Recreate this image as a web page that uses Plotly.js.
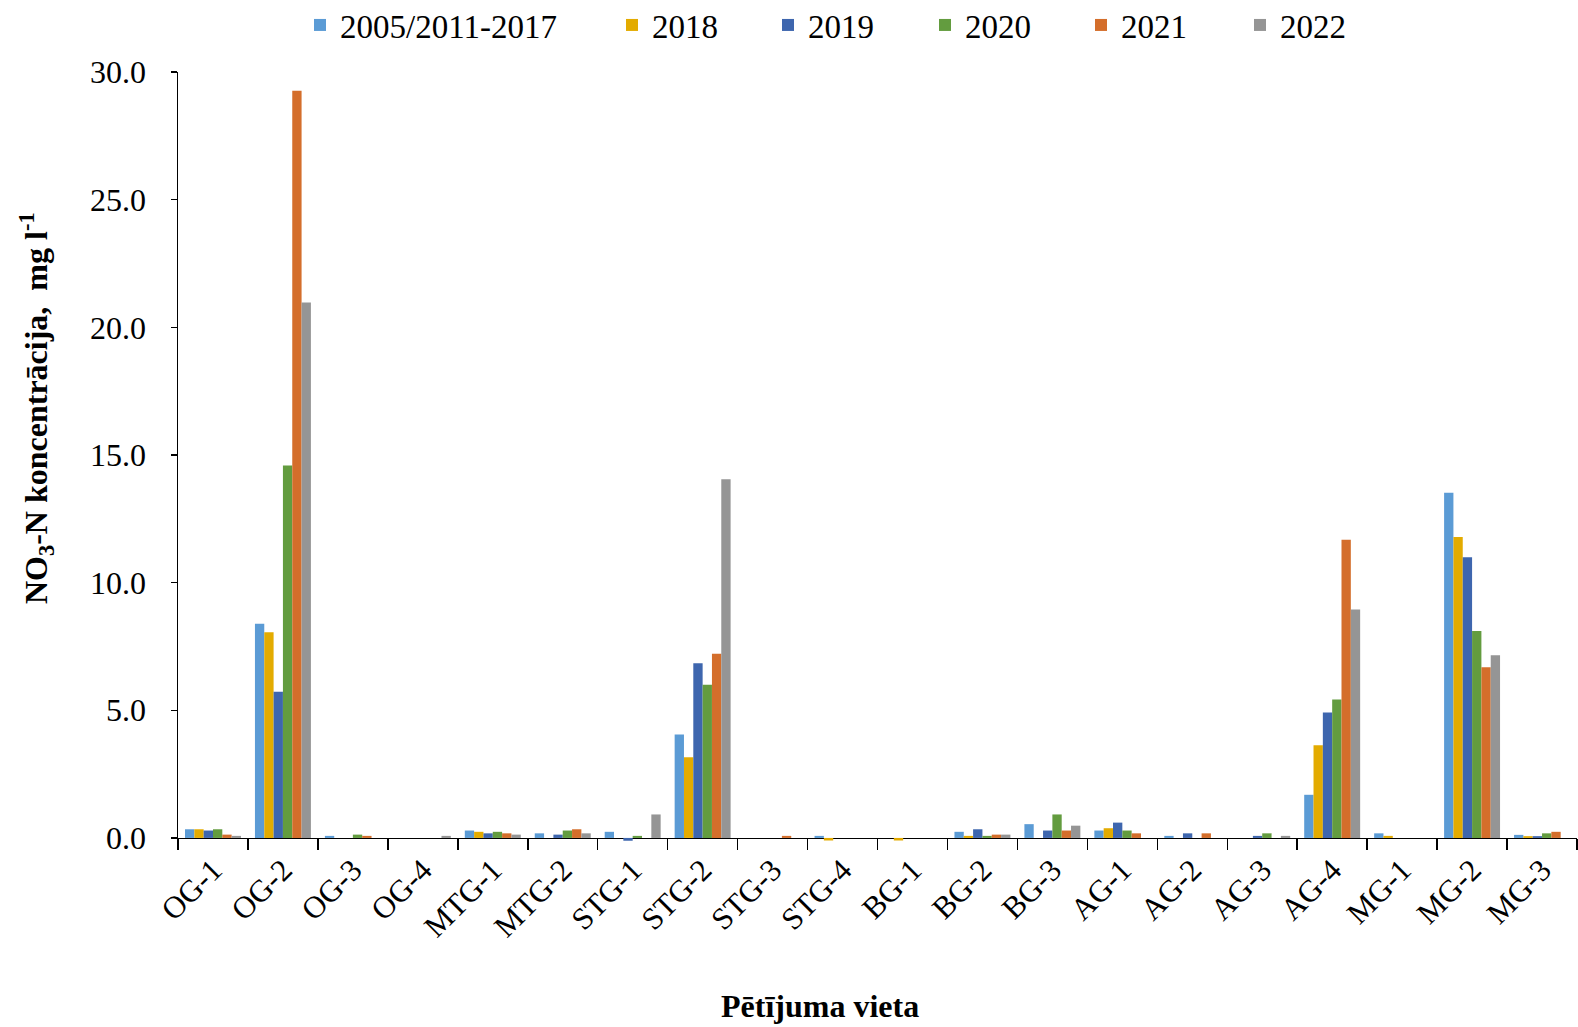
<!DOCTYPE html>
<html>
<head>
<meta charset="utf-8">
<script src="https://cdn.plot.ly/plotly-3.0.1.min.js"></script>
<style>html,body{margin:0;padding:0;background:#fff;}#chart{width:1578px;height:1027px;}</style>
</head>
<body>
<div id="chart"></div>
<script>
const categories = ['OG-1','OG-2','OG-3','OG-4','MTG-1','MTG-2','STG-1','STG-2','STG-3','STG-4','BG-1','BG-2','BG-3','AG-1','AG-2','AG-3','AG-4','MG-1','MG-2','MG-3'];
const seriesNames = ['2005/2011-2017','2018','2019','2020','2021','2022'];
const v2005 = [0.34, 8.39, 0.08, 0, 0.29, 0.18, 0.24, 4.05, 0, 0.08, 0, 0.24, 0.54, 0.29, 0.08, 0, 1.69, 0.18, 13.52, 0.12];
const v2018 = [0.34, 8.06, 0, 0, 0.24, 0, 0, 3.16, 0, -0.1, -0.1, 0.08, 0, 0.38, 0, 0, 3.63, 0.08, 11.79, 0.07];
const v2019 = [0.29, 5.73, 0, 0, 0.18, 0.13, -0.11, 6.84, 0, 0, 0, 0.34, 0.29, 0.60, 0.18, 0.08, 4.91, 0, 10.99, 0.07];
const v2020 = [0.34, 14.59, 0.13, 0, 0.24, 0.29, 0.08, 6.00, 0, 0, 0, 0.08, 0.92, 0.29, 0, 0.18, 5.42, 0, 8.11, 0.18];
const v2021 = [0.13, 29.27, 0.08, 0, 0.18, 0.34, 0, 7.21, 0.08, 0, 0, 0.13, 0.29, 0.18, 0.18, 0, 11.68, 0, 6.69, 0.24];
const v2022 = [0.08, 20.97, 0, 0.08, 0.13, 0.18, 0.92, 14.05, 0, 0, 0, 0.13, 0.48, 0, 0, 0.08, 8.95, 0, 7.16, 0];
const yTickVals = [0, 5, 10, 15, 20, 25, 30];

const seriesValues = [v2005, v2018, v2019, v2020, v2021, v2022];
const colors = ['#5B9BD5', '#E3AB00', '#3E66AE', '#639C3F', '#D46E2B', '#959595'];
const legendTextX = [340, 652, 808, 965, 1121, 1280];

const FONT = 'Liberation Serif, Times New Roman, serif';
const W = 1578, H = 1027;
const Y_MIN = -0.12, Y_MAX = 30;
const M = {l: 178, r: 1, t: 72, b: 186};
const plotH = H - M.t - M.b;
const plotW = W - M.l - M.r;
const plotBottom = H - M.b;

const traces = seriesNames.map((name, i) => ({
  type: 'bar',
  name: name,
  x: categories,
  y: seriesValues[i],
  marker: {color: colors[i], line: {width: 0}},
  legend: i === 0 ? 'legend' : 'legend' + (i + 1),
  hoverinfo: 'skip'
}));

const layout = {
  width: W, height: H,
  paper_bgcolor: '#ffffff',
  plot_bgcolor: '#ffffff',
  font: {family: FONT, size: 32, color: '#000'},
  margin: {l: M.l, r: M.r, t: M.t, b: M.b, pad: 0},
  barmode: 'group',
  bargap: 0.2,
  bargroupgap: 0,
  showlegend: true,
  xaxis: {
    type: 'category',
    anchor: 'free',
    position: (0 - Y_MIN) / (Y_MAX - Y_MIN),
    tickson: 'boundaries',
    ticks: 'outside',
    ticklen: 11,
    tickwidth: 1.5,
    tickcolor: '#000',
    showline: true,
    linecolor: '#000',
    linewidth: 1.5,
    showgrid: false,
    tickangle: -45,
    layer: 'below traces',
    tickfont: {family: FONT, size: 31, color: '#000'},
    automargin: false
  },
  yaxis: {
    range: [Y_MIN, Y_MAX],
    tickvals: yTickVals,
    tickformat: '.1f',
    ticks: 'outside',
    ticklen: 6,
    tickwidth: 1.5,
    tickcolor: '#000',
    showline: true,
    linecolor: '#000',
    linewidth: 1.5,
    showgrid: false,
    zeroline: false,
    ticklabelstandoff: 18,
    tickfont: {family: FONT, size: 32, color: '#000'},
    automargin: false
  },
  annotations: [
    {
      text: '<b>Pētījuma vieta</b>',
      xref: 'paper', yref: 'paper',
      x: (820 - M.l) / plotW, y: (plotBottom - 1006) / plotH,
      xanchor: 'center', yanchor: 'middle',
      showarrow: false,
      font: {family: FONT, size: 32, color: '#000'}
    },
    {
      text: '<b>NO<sub>3</sub>-N koncentrācija,  mg l<sup>-1</sup></b>',
      xref: 'paper', yref: 'paper',
      x: (36 - M.l) / plotW, y: (plotBottom - 408) / plotH,
      xanchor: 'center', yanchor: 'middle',
      textangle: -90,
      showarrow: false,
      font: {family: FONT, size: 32, color: '#000'}
    }
  ]
};

seriesNames.forEach((name, i) => {
  const key = i === 0 ? 'legend' : 'legend' + (i + 1);
  layout[key] = {
    xref: 'container', yref: 'container',
    x: (legendTextX[i] - 40) / W,
    y: 1 - 25 / H,
    xanchor: 'left', yanchor: 'middle',
    orientation: 'h',
    bgcolor: 'rgba(0,0,0,0)',
    borderwidth: 0,
    font: {family: FONT, size: 33, color: '#000'},
    itemclick: false
  };
});

Plotly.newPlot('chart', traces, layout, {displayModeBar: false, staticPlot: true});
</script>
</body>
</html>
